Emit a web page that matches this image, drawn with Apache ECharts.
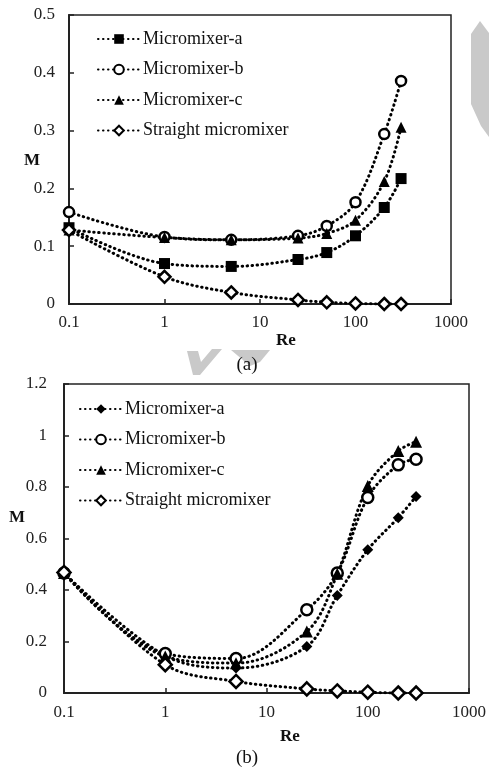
<!DOCTYPE html>
<html>
<head>
<meta charset="utf-8">
<script src="https://cdn.jsdelivr.net/npm/echarts@6/dist/echarts.min.js"></script>
<style>
  html, body { margin: 0; padding: 0; background: #fff; }
  #chartA { position: absolute; left: 0; top: 0; width: 489px; height: 392px; z-index: 2; }
  #chartB { position: absolute; left: 0; top: 370px; width: 489px; height: 399px; z-index: 1; }
</style>
</head>
<body>
<div id="chartA"></div>
<div id="chartB"></div>
<script>
// Re values (shared x)
var reVals = [0.1, 1, 5, 25, 50, 100, 200, 300];
var xTicks = [0.1, 1, 10, 100, 1000];
var seriesNames = ['Micromixer-a', 'Micromixer-b', 'Micromixer-c', 'Straight micromixer'];

// (a)
var aMixA = [0.132, 0.070, 0.065, 0.077, 0.089, 0.118, 0.167, 0.217];
var aMixB = [0.159, 0.116, 0.111, 0.118, 0.135, 0.176, 0.294, 0.386];
var aMixC = [0.128, 0.115, 0.111, 0.114, 0.122, 0.145, 0.212, 0.306];
var aStraight = [0.128, 0.047, 0.020, 0.007, 0.003, 0.001, 0.0, 0.0];

// (b)
var bMixA = [0.466, 0.145, 0.097, 0.181, 0.379, 0.556, 0.681, 0.763];
var bMixB = [0.466, 0.153, 0.134, 0.323, 0.466, 0.759, 0.886, 0.908];
var bMixC = [0.466, 0.142, 0.116, 0.239, 0.463, 0.804, 0.940, 0.976];
var bStraight = [0.468, 0.110, 0.045, 0.016, 0.008, 0.003, 0.0, 0.0];

var FONT = '"Liberation Serif", "DejaVu Serif", serif';

function pairs(ys) {
    var out = [];
    for (var i = 0; i < reVals.length; i++) out.push([reVals[i], ys[i]]);
    return out;
}

function mkSeries(name, ys, symbol, size, hollow) {
    return {
        name: name,
        type: 'line',
        data: pairs(ys),
        smooth: 0.35,
        symbol: symbol,
        symbolSize: size,
        showAllSymbol: true,
        lineStyle: { color: '#000', width: 3, type: [0.5, 4.5], cap: 'round' },
        itemStyle: hollow
            ? { color: '#fff', borderColor: '#000', borderWidth: 2.5 }
            : { color: '#000', borderColor: '#000', borderWidth: 0 },
        emphasis: { disabled: true },
        animation: false
    };
}

function buildOption(cfg) {
    return {
        animation: false,
        backgroundColor: 'transparent',
        textStyle: { fontFamily: FONT },
        legend: {
            orient: 'vertical',
            left: cfg.legendLeft,
            top: cfg.legendTop,
            itemWidth: 42,
            itemHeight: 12,
            itemGap: 12.5,
            selectedMode: false,
            textStyle: { fontFamily: FONT, fontSize: 18, color: '#111', padding: [0, 0, 0, -2] },
            data: seriesNames
        },
        grid: {
            left: cfg.grid[0], top: cfg.grid[1], width: cfg.grid[2], height: cfg.grid[3],
            show: true, borderColor: '#222', borderWidth: 1.5, backgroundColor: 'transparent'
        },
        xAxis: {
            type: 'log',
            logBase: 10,
            min: xTicks[0],
            max: xTicks[xTicks.length - 1],
            axisLine: { lineStyle: { color: '#222', width: 2 } },
            axisTick: { inside: true, length: 5, lineStyle: { color: '#222', width: 1.5 } },
            splitLine: { show: false },
            axisLabel: {
                margin: cfg.xLabelMargin, fontSize: 17, color: '#222', fontFamily: FONT,
                formatter: function (v) { return String(+(+v).toPrecision(6)); }
            }
        },
        yAxis: {
            type: 'value',
            min: 0,
            max: cfg.yMax,
            interval: cfg.yStep,
            axisLine: { show: true, lineStyle: { color: '#222', width: 2 } },
            axisTick: { show: true, inside: true, length: 5, lineStyle: { color: '#222', width: 1.5 } },
            splitLine: { show: false },
            axisLabel: {
                margin: cfg.yLabelMargin, fontSize: 17, color: '#222', fontFamily: FONT,
                formatter: function (v) { return String(+(+v).toFixed(2)); }
            }
        },
        graphic: cfg.graphic,
        series: cfg.series
    };
}

function textEl(x, y, s, size, bold) {
    return {
        type: 'text', x: x, y: y, z: 100,
        style: {
            text: s, fill: '#111',
            font: (bold ? 'bold ' : '') + size + 'px ' + FONT,
            align: 'center', verticalAlign: 'middle'
        }
    };
}

function poly(pts) {
    return { type: 'polygon', z: 0, shape: { points: pts }, style: { fill: '#c9c9c9' } };
}

var chartA = echarts.init(document.getElementById('chartA'), null, { renderer: 'canvas' });
chartA.setOption(buildOption({
    legendLeft: 92, legendTop: 25,
    grid: [69, 15, 382, 289],
    yMax: 0.5, yStep: 0.1,
    xLabelMargin: 10, yLabelMargin: 14,
    graphic: [
        poly([[471, 34], [480, 21], [489, 33], [489, 137], [481, 126], [471, 104]]),
        poly([[187, 351], [198, 351], [201, 362], [212, 349], [222, 349], [200, 375], [193, 375]]),
        poly([[231, 350], [270, 350], [260, 362], [250, 366]]),
        textEl(32, 161, 'M', 17, true),
        textEl(286, 341, 'Re', 17, true),
        textEl(247, 365, '(a)', 19, false)
    ],
    series: [
        mkSeries(seriesNames[0], aMixA, 'rect', 11, false),
        mkSeries(seriesNames[1], aMixB, 'circle', 10, true),
        mkSeries(seriesNames[2], aMixC, 'triangle', 11, false),
        mkSeries(seriesNames[3], aStraight, 'diamond', 12, true)
    ]
}));

var chartB = echarts.init(document.getElementById('chartB'), null, { renderer: 'canvas' });
chartB.setOption(buildOption({
    legendLeft: 74, legendTop: 25,
    grid: [64, 14, 406, 309],
    yMax: 1.2, yStep: 0.2,
    xLabelMargin: 11, yLabelMargin: 17,
    graphic: [
        textEl(17, 148, 'M', 17, true),
        textEl(290, 367, 'Re', 17, true),
        textEl(247, 388, '(b)', 19, false)
    ],
    series: [
        mkSeries(seriesNames[0], bMixA, 'diamond', 11, false),
        mkSeries(seriesNames[1], bMixB, 'circle', 11, true),
        mkSeries(seriesNames[2], bMixC, 'triangle', 12, false),
        mkSeries(seriesNames[3], bStraight, 'diamond', 13, true)
    ]
}));
</script>
</body>
</html>
